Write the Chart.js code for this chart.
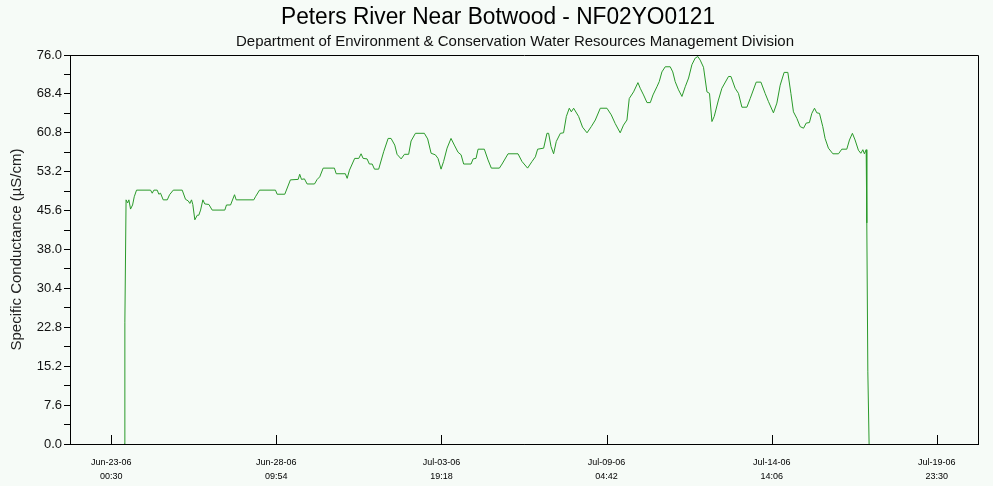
<!DOCTYPE html>
<html>
<head>
<meta charset="utf-8">
<title>Peters River Near Botwood - NF02YO0121</title>
<script src="https://cdn.jsdelivr.net/npm/chart.js@4/dist/chart.umd.min.js"></script>
<style>
  html, body { margin: 0; padding: 0; background: #f6fbf7; }
  #wrap { width: 993px; height: 486px; }
</style>
</head>
<body>
<div id="wrap"><canvas id="chart" width="993" height="486"></canvas></div>
<script>
// Station heading
const chartTitle = 'Peters River Near Botwood - NF02YO0121';
const chartSubtitle = 'Department of Environment & Conservation Water Resources Management Division';
const yAxisTitle = 'Specific Conductance (\u00b5S/cm)';

// Hours elapsed since Jun-23-06 00:30
const hours = [
  10.0, 10.65, 11.6, 12.8, 13.8, 15.1, 16.7, 18.0, 19.8, 30.8,
  32.1, 33.4, 36.0, 37.3, 38.6, 40.7, 43.9, 45.7, 48.6, 55.6,
  58.2, 60.3, 61.6, 62.9, 63.9, 65.5, 67.4, 68.6, 70.0, 71.8,
  73.3, 76.5, 79.1, 89.0, 90.3, 93.5, 96.6, 97.9, 111.7, 113.0,
  116.2, 128.7, 130.0, 136.0, 140.4, 146.5, 147.7, 149.1, 151.4, 153.5,
  159.3, 161.4, 163.4, 166.1, 174.9, 176.3, 183.5, 184.9, 186.7, 190.8,
  194.0, 195.8, 197.4, 200.5, 202.3, 204.5, 206.3, 209.6, 213.5, 217.0,
  219.3, 222.2, 224.0, 227.2, 229.8, 233.1, 235.0, 238.4, 245.4, 248.0,
  250.7, 254.0, 256.1, 258.5, 260.5, 263.2, 266.3, 268.9, 271.8, 274.2,
  276.2, 282.0, 283.6, 285.9, 287.5, 292.4, 295.3, 297.9, 304.2, 306.3,
  311.0, 318.8, 321.9, 326.3, 329.8, 332.4, 334.2, 338.9, 341.5, 342.8,
  344.7, 346.7, 348.8, 352.0, 354.5, 356.7, 359.0, 360.6, 362.4, 366.3,
  369.4, 372.9, 376.2, 379.4, 383.3, 388.5, 391.9, 395.0, 398.9, 401.5,
  404.2, 406.0, 409.4, 412.8, 414.6, 417.2, 419.9, 422.5, 424.6, 427.7,
  429.5, 431.6, 434.2, 438.1, 440.1, 442.0, 444.6, 447.3, 449.9, 452.5,
  455.1, 457.7, 459.8, 461.6, 464.2, 466.9, 468.9, 470.8, 472.6, 475.9,
  478.6, 483.8, 485.7, 489.0, 491.6, 494.3, 498.2, 500.8, 505.5, 509.2,
  512.5, 515.1, 519.0, 521.7, 524.3, 527.4, 530.3, 532.7, 534.7, 537.4,
  540.0, 542.6, 544.7, 547.2, 549.1, 551.2, 553.0, 555.1, 557.7, 559.5,
  562.1, 565.6, 570.0, 572.6, 576.5, 578.6, 580.9, 583.0, 585.6, 587.5,
  589.1, 590.3, 591.7, 592.2, 593.0, 594.0
];

// Specific conductance readings (uS/cm)
const conductance = [
  0, 23.8, 47.7, 47.1, 47.7, 45.9, 46.7, 48.3, 49.6, 49.6,
  49.0, 49.6, 49.6, 48.8, 49.0, 47.7, 47.7, 48.7, 49.6, 49.6,
  47.8, 47.5, 47.0, 47.7, 46.8, 43.8, 44.7, 44.7, 45.7, 47.7,
  46.9, 46.8, 45.7, 45.7, 46.7, 46.7, 48.7, 47.7, 47.7, 48.3,
  49.6, 49.6, 48.8, 48.8, 51.6, 51.7, 52.7, 51.7, 51.8, 50.8,
  50.8, 51.7, 52.2, 53.9, 53.9, 52.8, 52.8, 51.9, 53.5, 55.8,
  55.8, 56.7, 55.8, 55.7, 54.7, 54.7, 53.7, 53.7, 57.1, 59.7,
  59.7, 58.4, 56.6, 55.7, 56.6, 56.6, 59.2, 60.7, 60.7, 59.6,
  56.8, 56.5, 55.8, 53.7, 55.2, 57.8, 59.7, 58.4, 57.0, 56.5,
  54.7, 54.7, 55.7, 55.8, 57.6, 57.6, 55.5, 53.9, 53.9, 54.7,
  56.7, 56.7, 55.2, 53.9, 55.2, 56.1, 57.6, 57.8, 60.7, 60.7,
  58.1, 56.7, 59.1, 60.7, 60.8, 64.0, 65.6, 64.9, 65.6, 64.0,
  61.9, 60.8, 62.0, 63.3, 65.6, 65.6, 64.3, 62.6, 60.8, 62.3,
  63.3, 67.5, 68.8, 70.6, 69.5, 68.2, 66.7, 66.7, 68.2, 69.8,
  70.8, 72.7, 73.7, 73.7, 72.7, 70.8, 69.2, 67.9, 69.8, 71.5,
  74.1, 75.4, 75.7, 75.0, 73.6, 68.8, 68.5, 63.0, 64.0, 67.2,
  69.5, 71.8, 71.8, 69.5, 68.5, 65.8, 65.8, 67.5, 70.7, 70.7,
  68.5, 66.9, 64.7, 66.6, 70.1, 72.6, 72.6, 68.5, 64.9, 63.6,
  62.0, 61.7, 62.7, 62.8, 64.6, 65.6, 64.7, 64.6, 62.0, 59.7,
  57.8, 56.7, 56.7, 57.6, 57.6, 59.4, 60.7, 59.4, 57.4, 56.8,
  57.5, 56.7, 57.5, 43.2, 14.1, 0
];

// Time axis ticks (hours since Jun-23-06 00:30) and their labels
const xTickHours = [0, 129.4, 258.8, 388.2, 517.6, 647.0];
const xTickLabels = [
  ['Jun-23-06', '00:30'],
  ['Jun-28-06', '09:54'],
  ['Jul-03-06', '19:18'],
  ['Jul-09-06', '04:42'],
  ['Jul-14-06', '14:06'],
  ['Jul-19-06', '23:30']
];

// Value axis labelled ticks
const yMajorTicks = [0, 7.6, 15.2, 22.8, 30.4, 38.0, 45.6, 53.2, 60.8, 68.4, 76.0];

const BG = '#f6fbf7';
const FONT = "'Liberation Sans', Arial, Helvetica, sans-serif";
const axisPad = 0.25 * (xTickHours[1] - xTickHours[0]);

// unlabelled ticks half way between the labelled ones
const yAllTicks = [];
yMajorTicks.forEach((v, i) => {
  yAllTicks.push(v);
  if (i < yMajorTicks.length - 1) yAllTicks.push((v + yMajorTicks[i + 1]) / 2);
});
const majorSet = new Set(yMajorTicks.map(v => v.toFixed(1)));

// background, heading, frame and upward time ticks
const decorations = {
  id: 'decorations',
  beforeDraw(chart) {
    const ctx = chart.ctx;
    ctx.save();
    ctx.fillStyle = BG;
    ctx.fillRect(0, 0, chart.width, chart.height);
    ctx.fillStyle = '#000';
    ctx.textAlign = 'center';
    ctx.textBaseline = 'middle';
    ctx.font = '23px ' + FONT;
    ctx.fillText(chartTitle, 498, 18, 434);
    ctx.font = '15px ' + FONT;
    ctx.fillStyle = '#111';
    ctx.fillText(chartSubtitle, 515, 42, 564);
    ctx.restore();
  },
  afterDatasetsDraw(chart) {
    const ctx = chart.ctx;
    const a = chart.chartArea;
    const xs = chart.scales.x;
    ctx.save();
    ctx.strokeStyle = '#000';
    ctx.lineWidth = 1;
    ctx.beginPath();
    ctx.rect(Math.round(a.left) + 0.5, Math.round(a.top) + 0.5,
             Math.round(a.right - a.left), Math.round(a.bottom - a.top));
    ctx.stroke();
    ctx.beginPath();
    xTickHours.forEach(h => {
      const px = Math.round(xs.getPixelForValue(h)) + 0.5;
      ctx.moveTo(px, a.bottom);
      ctx.lineTo(px, a.bottom - 9);
    });
    ctx.stroke();
    ctx.restore();
  }
};

const points = hours.map((h, i) => ({ x: h, y: conductance[i] }));

new Chart(document.getElementById('chart'), {
  type: 'line',
  data: {
    datasets: [{
      data: points,
      borderColor: '#2a9a2a',
      borderWidth: 1,
      pointRadius: 0,
      tension: 0,
      fill: false
    }]
  },
  options: {
    responsive: false,
    devicePixelRatio: 1,
    animation: false,
    layout: { padding: { top: 55, right: 15, bottom: 0, left: 0 } },
    plugins: {
      legend: { display: false },
      tooltip: { enabled: false },
      title: { display: false }
    },
    scales: {
      x: {
        type: 'linear',
        min: xTickHours[0] - axisPad,
        max: xTickHours[xTickHours.length - 1] + axisPad,
        afterBuildTicks(scale) {
          scale.ticks = xTickHours.map(v => ({ value: v }));
        },
        afterFit(scale) { scale.height = 42; },
        grid: { display: false },
        border: { display: true, color: '#000', width: 1 },
        ticks: {
          autoSkip: false,
          maxRotation: 0,
          padding: 4,
          color: '#000',
          font: { family: FONT, size: 9, lineHeight: 1.55 },
          callback: (value, index) => xTickLabels[index]
        }
      },
      y: {
        type: 'linear',
        min: 0,
        max: 76,
        afterBuildTicks(scale) {
          scale.ticks = yAllTicks.map(v => ({ value: v }));
        },
        afterFit(scale) { scale.width = 70; },
        grid: {
          display: true,
          drawOnChartArea: false,
          drawTicks: true,
          tickLength: 6,
          color: '#000',
          lineWidth: 1
        },
        border: { display: true, color: '#000', width: 1 },
        ticks: {
          autoSkip: false,
          padding: 2,
          color: '#111',
          font: { family: FONT, size: 13 },
          callback: (value) => majorSet.has(Number(value).toFixed(1)) ? Number(value).toFixed(1) : ''
        },
        title: {
          display: true,
          text: yAxisTitle,
          color: '#222',
          font: { family: FONT, size: 15 },
          padding: { top: 8, bottom: 0 }
        }
      }
    }
  },
  plugins: [decorations]
});
</script>
</body>
</html>
